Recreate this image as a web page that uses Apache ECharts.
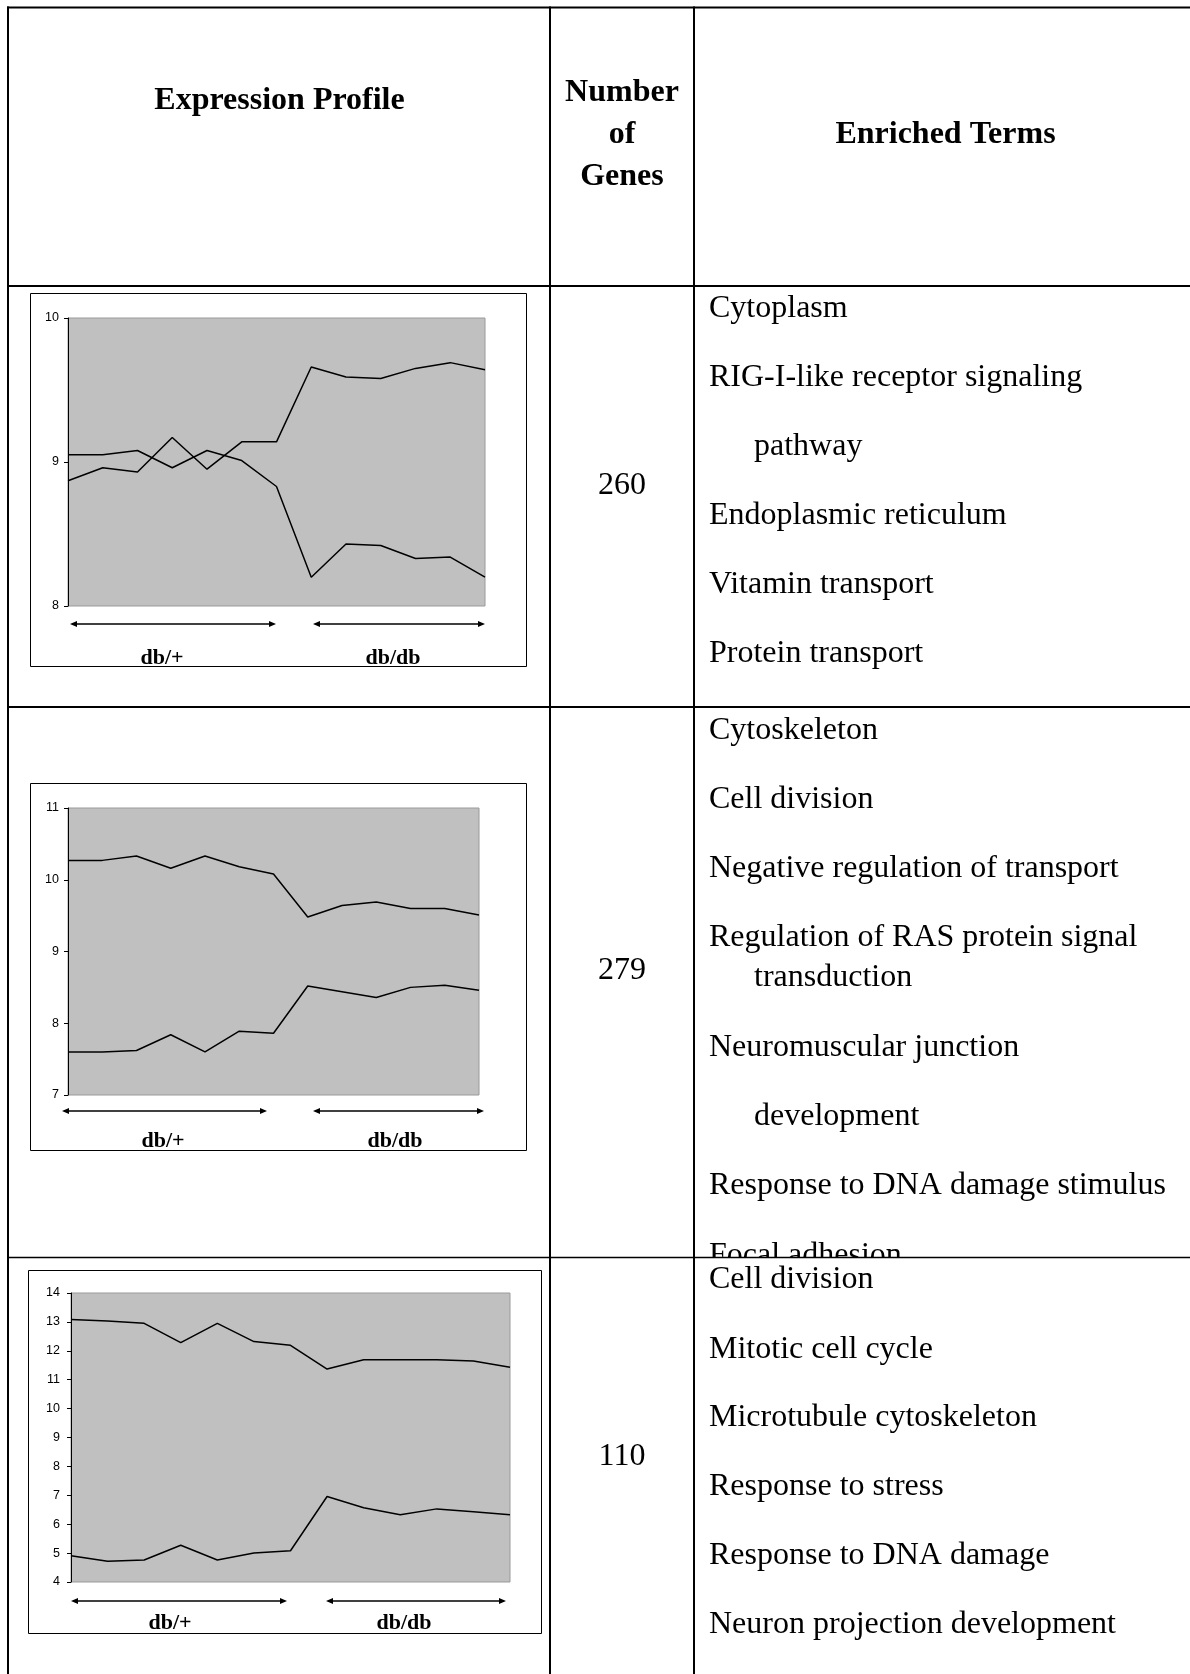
<!DOCTYPE html>
<html>
<head>
<meta charset="utf-8">
<script src="https://cdn.jsdelivr.net/npm/echarts@6/dist/echarts.min.js"></script>
<style>
  html, body { margin: 0; padding: 0; background: #ffffff; }
  #main { width: 1190px; height: 1674px; }
</style>
</head>
<body>
<div id="main"></div>
<script>
// ---- Data -------------------------------------------------------------
// 13 arrays: 7 db/+ samples followed by 6 db/db samples
const samples = ['db/+ 1', 'db/+ 2', 'db/+ 3', 'db/+ 4', 'db/+ 5', 'db/+ 6', 'db/+ 7',
                 'db/db 1', 'db/db 2', 'db/db 3', 'db/db 4', 'db/db 5', 'db/db 6'];

// Cluster 1 (260 genes)
const cluster1Down = [9.05, 9.05, 9.08, 8.96, 9.08, 9.01, 8.83, 8.20, 8.43, 8.42, 8.33, 8.34, 8.20];
const cluster1Up   = [8.87, 8.96, 8.93, 9.17, 8.95, 9.14, 9.14, 9.66, 9.59, 9.58, 9.65, 9.69, 9.64];
const cluster1Ticks = [8, 9, 10];

// Cluster 2 (279 genes)
const cluster2Down = [10.27, 10.27, 10.33, 10.16, 10.33, 10.18, 10.08, 9.48, 9.64, 9.69, 9.60, 9.60, 9.51];
const cluster2Up   = [7.60, 7.60, 7.62, 7.84, 7.60, 7.89, 7.86, 8.52, 8.44, 8.36, 8.50, 8.53, 8.46];
const cluster2Ticks = [7, 8, 9, 10, 11];

// Cluster 3 (110 genes)
const cluster3Down = [13.08, 13.03, 12.95, 12.28, 12.95, 12.32, 12.19, 11.37, 11.69, 11.69, 11.69, 11.65, 11.43];
const cluster3Up   = [4.91, 4.72, 4.76, 5.27, 4.76, 5.00, 5.08, 6.96, 6.57, 6.33, 6.53, 6.43, 6.33];
const cluster3Ticks = [4, 5, 6, 7, 8, 9, 10, 11, 12, 13, 14];

const groupLabels = ['db/+', 'db/db'];
const headers = ['Expression Profile', ['Number', 'of', 'Genes'], 'Enriched Terms'];
const geneCounts = ['260', '279', '110'];

// Each term is a list of lines; lines after the first are hanging-indented
const terms1 = [['Cytoplasm'], ['RIG-I-like receptor signaling', 'pathway'], ['Endoplasmic reticulum'],
                ['Vitamin transport'], ['Protein transport']];
const terms2 = [['Cytoskeleton'], ['Cell division'], ['Negative regulation of transport'],
                ['Regulation of RAS protein signal', 'transduction'], ['Neuromuscular junction', 'development'],
                ['Response to DNA damage stimulus'], ['Focal adhesion']];
const terms3 = [['Cell division'], ['Mitotic cell cycle'], ['Microtubule cytoskeleton'],
                ['Response to stress'], ['Response to DNA damage'], ['Neuron projection development']];

// ---- Layout -----------------------------------------------------------
const SERIF = '"Liberation Serif", "Times New Roman", serif';
const SANS = '"Liberation Sans", Arial, sans-serif';

const COL_L = 8, COL_1 = 550, COL_2 = 694, PAGE_R = 1190, PAGE_B = 1674;
const ROW_TOP = 7.5, ROW_HEAD = 286, ROW_2 = 707, ROW_3 = 1257.5;

const grids = [
  { left: 68, top: 318, width: 417, height: 288 },
  { left: 68, top: 808, width: 411, height: 287 },
  { left: 71, top: 1293, width: 439, height: 289 }
];
const frames = [
  { x: 30.5, y: 293.5, w: 496, h: 373 },
  { x: 30.5, y: 783.5, w: 496, h: 367 },
  { x: 28.5, y: 1270.5, w: 513, h: 363 }
];
const arrowRows = [
  { y: 624, a: [70, 276], b: [313, 485], lab: [162, 393], base: 663 },
  { y: 1111, a: [62, 267], b: [313, 484], lab: [163, 395], base: 1146.5 },
  { y: 1601, a: [71, 287], b: [326, 506], lab: [170, 404], base: 1628 }
];
const termBaselines = [
  [315.7, 385, 454, 522.3, 591.7, 660.7],
  [738, 807, 876, 945, 985, 1055, 1124, 1193, 1263],
  [1286.7, 1356.7, 1425, 1494, 1563, 1631.7]
];
const countBaselines = [492.5, 977.5, 1464];

// Text placed by its alphabetic baseline
function textAt(x, baseline, str, size, bold, align, z) {
  return {
    type: 'text', z: z || 10, silent: true,
    x: x, y: baseline - 0.22 * size,
    style: {
      text: str, fill: '#000',
      font: (bold ? 'bold ' : '') + size + 'px ' + SERIF,
      align: align || 'left', verticalAlign: 'middle'
    }
  };
}
function hLine(x1, x2, y, w) {
  return { type: 'line', z: 20, silent: true, shape: { x1: x1, y1: y, x2: x2, y2: y },
           style: { stroke: '#000', lineWidth: w } };
}
function vLine(x, y1, y2, w) {
  return { type: 'line', z: 20, silent: true, shape: { x1: x, y1: y1, x2: x, y2: y2 },
           style: { stroke: '#000', lineWidth: w } };
}
function doubleArrow(x1, x2, y) {
  const L = 7, H = 3;
  return [
    { type: 'line', z: 12, silent: true, shape: { x1: x1 + 3, y1: y, x2: x2 - 3, y2: y },
      style: { stroke: '#000', lineWidth: 1.6 } },
    { type: 'polygon', z: 12, silent: true, shape: { points: [[x1, y], [x1 + L, y - H], [x1 + L, y + H]] },
      style: { fill: '#000' } },
    { type: 'polygon', z: 12, silent: true, shape: { points: [[x2, y], [x2 - L, y - H], [x2 - L, y + H]] },
      style: { fill: '#000' } }
  ];
}

const graphics = [];

// Table rules
graphics.push(hLine(COL_L - 1, PAGE_R, ROW_TOP, 2));
graphics.push(hLine(COL_L - 1, PAGE_R, ROW_HEAD, 2));
graphics.push(hLine(COL_L - 1, PAGE_R, ROW_2, 2));
graphics.push(hLine(COL_L - 1, PAGE_R, ROW_3, 1.6));
graphics.push(vLine(COL_L, ROW_TOP - 1, PAGE_B, 2));
graphics.push(vLine(COL_1, ROW_TOP - 1, PAGE_B, 2));
graphics.push(vLine(COL_2, ROW_TOP - 1, PAGE_B, 2));

// Header cells
graphics.push(textAt(279.5, 107.5, headers[0], 32, true, 'center'));
headers[1].forEach(function (s, i) { graphics.push(textAt(622, 100 + 42 * i, s, 32, true, 'center')); });
graphics.push(textAt(945.5, 142, headers[2], 32, true, 'center'));

// Gene counts
geneCounts.forEach(function (s, i) { graphics.push(textAt(622, countBaselines[i], s, 32, false, 'center')); });

// Enriched terms
[terms1, terms2, terms3].forEach(function (terms, r) {
  let k = 0;
  terms.forEach(function (lines) {
    lines.forEach(function (line, j) {
      graphics.push(textAt(j === 0 ? 709 : 754, termBaselines[r][k], line, 32, false, 'left', r === 1 ? 5 : 10));
      k++;
    });
  });
});
// Overflowing text of the middle row is cut at the next row's rule
graphics.push({ type: 'rect', z: 7, silent: true,
  shape: { x: COL_2 + 1, y: ROW_3, width: PAGE_R - COL_2, height: 8 }, style: { fill: '#fff' } });

// Chart frames, group arrows and group labels
frames.forEach(function (f) {
  graphics.push({ type: 'rect', z: 11, silent: true, shape: { x: f.x, y: f.y, width: f.w, height: f.h },
                  style: { fill: 'none', stroke: '#000', lineWidth: 1 } });
});
arrowRows.forEach(function (a) {
  doubleArrow(a.a[0], a.a[1], a.y).forEach(function (g) { graphics.push(g); });
  doubleArrow(a.b[0], a.b[1], a.y).forEach(function (g) { graphics.push(g); });
  graphics.push(textAt(a.lab[0], a.base, groupLabels[0], 22, true, 'center'));
  graphics.push(textAt(a.lab[1], a.base, groupLabels[1], 22, true, 'center'));
});

// ---- Charts -----------------------------------------------------------
const ticks = [cluster1Ticks, cluster2Ticks, cluster3Ticks];
const labelMargins = [9, 9, 11];
const seriesData = [[cluster1Down, cluster1Up], [cluster2Down, cluster2Up], [cluster3Down, cluster3Up]];

const option = {
  animation: false,
  backgroundColor: '#ffffff',
  grid: grids.map(function (g) {
    return Object.assign({ show: true, backgroundColor: '#c0c0c0', borderColor: '#9a9a9a', borderWidth: 1,
                           containLabel: false }, g);
  }),
  xAxis: grids.map(function (g, i) {
    return { type: 'category', gridIndex: i, data: samples, boundaryGap: false,
             axisLine: { show: false }, axisTick: { show: false }, axisLabel: { show: false },
             splitLine: { show: false } };
  }),
  yAxis: ticks.map(function (t, i) {
    return { type: 'value', gridIndex: i, min: t[0], max: t[t.length - 1], interval: 1,
             axisLine: { show: true, lineStyle: { color: '#000', width: 1 } },
             axisTick: { show: true, length: 4, lineStyle: { color: '#000', width: 1 } },
             axisLabel: { color: '#000', fontSize: 12.5, fontFamily: SANS, margin: labelMargins[i] },
             splitLine: { show: false } };
  }),
  series: [],
  graphic: { elements: graphics }
};
seriesData.forEach(function (pair, i) {
  pair.forEach(function (values) {
    option.series.push({ type: 'line', xAxisIndex: i, yAxisIndex: i, data: values,
                         symbol: 'none', lineStyle: { color: '#000', width: 1.5 }, z: 3 });
  });
});

const chart = echarts.init(document.getElementById('main'), null, { renderer: 'canvas' });
chart.setOption(option);
</script>
</body>
</html>
